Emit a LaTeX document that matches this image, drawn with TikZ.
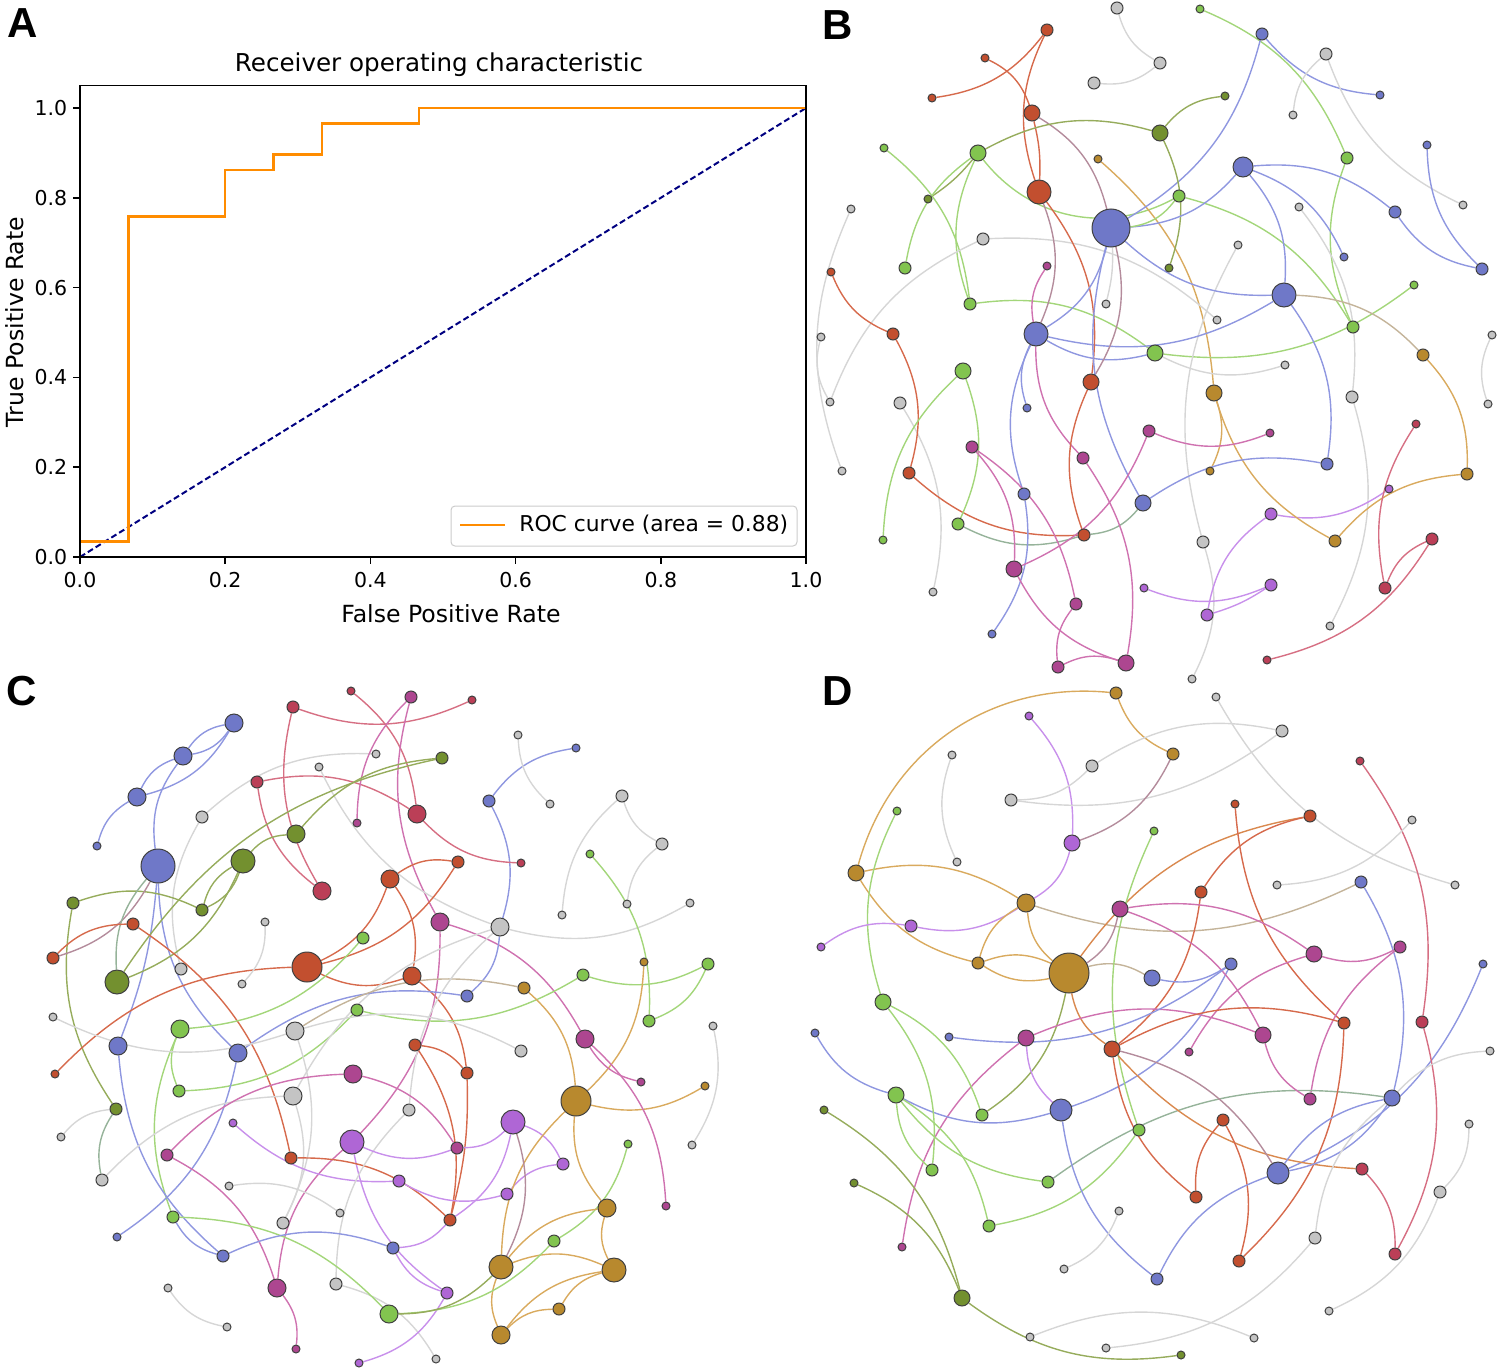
\documentclass[tikz,border=0pt]{standalone}
\usepackage{fontspec}
\setmainfont{DejaVu Sans}
\newfontfamily\lettfont{Liberation Sans}
\pgfdeclarelayer{edgelayer}
\pgfsetlayers{edgelayer,main}
\definecolor{nblu}{HTML}{6F78C8}
\definecolor{nred}{HTML}{C24F2F}
\definecolor{ngrn}{HTML}{82C44F}
\definecolor{nolv}{HTML}{73902F}
\definecolor{nmag}{HTML}{AD4690}
\definecolor{npur}{HTML}{AF66D5}
\definecolor{ngld}{HTML}{B8892E}
\definecolor{ngry}{HTML}{C4C4C4}
\definecolor{ncrm}{HTML}{BB3F57}
\definecolor{eblu}{HTML}{8F97E0}
\definecolor{ered}{HTML}{D66A4C}
\definecolor{egrn}{HTML}{A3D67A}
\definecolor{eolv}{HTML}{96AC5C}
\definecolor{emag}{HTML}{CF72B0}
\definecolor{epur}{HTML}{C890EB}
\definecolor{egld}{HTML}{D9AA5E}
\definecolor{egry}{HTML}{D6D6D6}
\definecolor{ecrm}{HTML}{D66F83}
\definecolor{emauve}{HTML}{B48C9C}
\definecolor{etan}{HTML}{C4B49A}
\definecolor{esage}{HTML}{96B39A}
\definecolor{eorg}{HTML}{D9894F}
\definecolor{rocorange}{HTML}{FF8C00}
\definecolor{rocnavy}{HTML}{000080}
\tikzset{
  nb/.style={circle,draw=black!75,line width=0.5pt,inner sep=0pt},
  edg/.style={line width=0.7pt},
  bnl/.style={bend left=22},
  bnr/.style={bend right=22},
  bnl2/.style={bend left=40},
  bnr2/.style={bend right=40},
  bns/.style={bend left=8},
  letter/.style={font=\lettfont\bfseries\fontsize{21}{21}\selectfont,inner sep=0pt},
  ticklab/.style={font=\fontsize{10.25}{12}\selectfont,inner sep=1pt},
  axlab/.style={font=\fontsize{11.8}{14}\selectfont}
}
\newcommand\mkn[5]{\node[nb,fill=#5,minimum size=#4pt] (#1) at (#2,#3) {};}
\newcommand\mke[4]{\draw[edg,draw=#3,#4] (#1) to (#2);}
\begin{document}
\begin{tikzpicture}[x=0.5pt,y=-0.5pt]
\useasboundingbox (0,0) rectangle (1499,1370);
% ===================== Panel A =====================
\node[letter] (LA) at (23,23) {A};
\node[letter] (LB) at (838,25) {B};
\node[letter] (LC) at (22,691) {C};
\node[letter] (LD) at (838,691) {D};
\node[font=\fontsize{12.3}{14}\selectfont] (title) at (439,65) {Receiver operating characteristic};
\node[axlab] (xlab) at (451,614) {False Positive Rate};
\node[axlab,rotate=90] (ylab) at (15,322) {True Positive Rate};
\begin{scope}[shift={(80,557)},x=363pt,y=224.5pt]
  \draw[rocnavy,line width=1pt,dash pattern=on 3pt off 1.6pt] (0,0) -- (1,1);
  \draw[rocorange,line width=1.15pt] (0,0.0345) -- (0.0667,0.0345) -- (0.0667,0.7586) -- (0.2,0.7586) -- (0.2,0.8621) -- (0.2667,0.8621) -- (0.2667,0.8966) -- (0.3333,0.8966) -- (0.3333,0.9655) -- (0.4667,0.9655) -- (0.4667,1) -- (1,1);
  \draw[line width=0.8pt] (0,0) rectangle (1,1.05);
  \foreach \v/\t in {0/0.0,0.2/0.2,0.4/0.4,0.6/0.6,0.8/0.8,1/1.0} {
    \draw[line width=0.8pt] (\v,0) -- ++(0,-3.5pt) node[below,ticklab,yshift=-2.5pt] {\t};
    \draw[line width=0.8pt] (0,\v) -- ++(-3.5pt,0) node[left,ticklab,xshift=-1.5pt] {\t};
  }
\end{scope}
\draw[rounded corners=2pt,draw=black!20,line width=0.5pt,fill=white] (451,506) rectangle (797,546);
\coordinate (lg1) at (460,525);
\coordinate (lg2) at (505,525);
\draw[rocorange,line width=1.15pt] (lg1) -- (lg2);
\node[anchor=west,font=\fontsize{10.9}{12}\selectfont,inner sep=0pt] (lgt) at (519,525) {ROC curve (area = 0.88)};
% ===================== Panel B nodes =====================
\mkn{b1}{1117}{8}{6}{ngry}
\mkn{b2}{1047}{30}{6}{nred}
\mkn{b3}{985}{58}{4}{nred}
\mkn{b4}{1160}{63}{6}{ngry}
\mkn{b5}{1094}{83}{6}{ngry}
\mkn{b6}{932}{98}{4}{nred}
\mkn{b7}{1032}{113}{8}{nred}
\mkn{b8}{1160}{133}{8}{nolv}
\mkn{b9}{884}{148}{4}{ngrn}
\mkn{b10}{978}{153}{8}{ngrn}
\mkn{b11}{1098}{159}{4}{ngld}
\mkn{b12}{1039}{192}{12}{nred}
\mkn{b13}{928}{199}{4}{nolv}
\mkn{b14}{851}{209}{4}{ngry}
\mkn{b15}{1111}{228}{19}{nblu}
\mkn{b16}{983}{239}{6}{ngry}
\mkn{b17}{1047}{266}{4}{nmag}
\mkn{b18}{831}{272}{4}{nred}
\mkn{b19}{905}{268}{6}{ngrn}
\mkn{b20}{970}{304}{6}{ngrn}
\mkn{b21}{1106}{304}{4}{ngry}
\mkn{b22}{893}{334}{6}{nred}
\mkn{b23}{1036}{334}{12}{nblu}
\mkn{b24}{821}{337}{4}{ngry}
\mkn{b25}{1200}{9}{4}{ngrn}
\mkn{b26}{1262}{34}{6}{nblu}
\mkn{b27}{1326}{54}{6}{ngry}
\mkn{b28}{1225}{96}{4}{nolv}
\mkn{b29}{1380}{95}{4}{nblu}
\mkn{b30}{1293}{115}{4}{ngry}
\mkn{b31}{1427}{145}{4}{nblu}
\mkn{b32}{1347}{158}{6}{ngrn}
\mkn{b33}{1243}{167}{10}{nblu}
\mkn{b34}{1179}{196}{6}{ngrn}
\mkn{b35}{1299}{207}{4}{ngry}
\mkn{b36}{1395}{212}{6}{nblu}
\mkn{b37}{1463}{205}{4}{ngry}
\mkn{b38}{1238}{245}{4}{ngry}
\mkn{b39}{1344}{257}{4}{nblu}
\mkn{b40}{1169}{268}{4}{nolv}
\mkn{b41}{1482}{269}{6}{nblu}
\mkn{b42}{1414}{285}{4}{ngrn}
\mkn{b43}{1217}{320}{4}{ngry}
\mkn{b44}{1284}{295}{12}{nblu}
\mkn{b45}{1353}{327}{6}{ngrn}
\mkn{b46}{1492}{335}{4}{ngry}
\mkn{b47}{963}{371}{8}{ngrn}
\mkn{b48}{1091}{382}{8}{nred}
\mkn{b49}{830}{402}{4}{ngry}
\mkn{b50}{900}{403}{6}{ngry}
\mkn{b51}{1027}{408}{4}{nblu}
\mkn{b52}{1149}{431}{6}{nmag}
\mkn{b53}{972}{447}{6}{nmag}
\mkn{b54}{1083}{458}{6}{nmag}
\mkn{b55}{842}{471}{4}{ngry}
\mkn{b56}{909}{473}{6}{nred}
\mkn{b57}{1024}{494}{6}{nblu}
\mkn{b58}{1143}{503}{8}{nblu}
\mkn{b59}{958}{524}{6}{ngrn}
\mkn{b60}{1084}{535}{6}{nred}
\mkn{b61}{1014}{569}{8}{nmag}
\mkn{b62}{933}{592}{4}{ngry}
\mkn{b63}{1144}{588}{4}{npur}
\mkn{b64}{1076}{604}{6}{nmag}
\mkn{b65}{992}{634}{4}{nblu}
\mkn{b66}{1058}{667}{6}{nmag}
\mkn{b67}{1126}{663}{8}{nmag}
\mkn{b68}{1155}{353}{8}{ngrn}
\mkn{b69}{1423}{355}{6}{ngld}
\mkn{b70}{1285}{365}{4}{ngry}
\mkn{b71}{1214}{393}{8}{ngld}
\mkn{b72}{1352}{397}{6}{ngry}
\mkn{b73}{1488}{404}{4}{ngry}
\mkn{b74}{1416}{424}{4}{ncrm}
\mkn{b75}{1270}{433}{4}{nmag}
\mkn{b76}{1327}{464}{6}{nblu}
\mkn{b77}{1210}{471}{4}{ngld}
\mkn{b78}{1467}{474}{6}{ngld}
\mkn{b79}{1389}{489}{4}{npur}
\mkn{b80}{1271}{514}{6}{npur}
\mkn{b81}{1335}{541}{6}{ngld}
\mkn{b82}{1203}{542}{6}{ngry}
\mkn{b83}{1432}{539}{6}{ncrm}
\mkn{b84}{1385}{588}{6}{ncrm}
\mkn{b85}{1271}{585}{6}{npur}
\mkn{b86}{1207}{615}{6}{npur}
\mkn{b87}{1330}{626}{4}{ngry}
\mkn{b88}{1267}{660}{4}{ncrm}
\mkn{b89}{1192}{679}{4}{ngry}
\mkn{b90}{883}{540}{4}{ngrn}
% ===================== Panel C nodes =====================
\mkn{c1}{351}{691}{4}{ncrm}
\mkn{c2}{293}{707}{6}{ncrm}
\mkn{c3}{234}{723}{9}{nblu}
\mkn{c4}{376}{754}{4}{ngry}
\mkn{c5}{183}{756}{9}{nblu}
\mkn{c6}{319}{767}{4}{ngry}
\mkn{c7}{257}{782}{6}{ncrm}
\mkn{c8}{137}{797}{9}{nblu}
\mkn{c9}{202}{817}{6}{ngry}
\mkn{c10}{357}{823}{4}{nmag}
\mkn{c11}{296}{834}{9}{nolv}
\mkn{c12}{97}{846}{4}{nblu}
\mkn{c13}{243}{861}{12}{nolv}
\mkn{c14}{158}{866}{17}{nblu}
\mkn{c15}{322}{891}{9}{ncrm}
\mkn{c16}{73}{903}{6}{nolv}
\mkn{c17}{202}{910}{6}{nolv}
\mkn{c18}{265}{922}{4}{ngry}
\mkn{c19}{133}{924}{6}{nred}
\mkn{c20}{53}{958}{6}{nred}
\mkn{c21}{363}{938}{6}{ngrn}
\mkn{c22}{307}{967}{15}{nred}
\mkn{c23}{181}{969}{6}{ngry}
\mkn{c24}{117}{982}{12}{nolv}
\mkn{c25}{242}{984}{4}{ngry}
\mkn{c26}{53}{1017}{4}{ngry}
\mkn{c27}{357}{1010}{6}{ngrn}
\mkn{c28}{411}{697}{6}{nmag}
\mkn{c29}{472}{700}{4}{ncrm}
\mkn{c30}{518}{735}{4}{ngry}
\mkn{c31}{576}{748}{4}{nblu}
\mkn{c32}{442}{758}{6}{nolv}
\mkn{c33}{489}{801}{6}{nblu}
\mkn{c34}{550}{804}{4}{ngry}
\mkn{c35}{622}{796}{6}{ngry}
\mkn{c36}{417}{814}{9}{ncrm}
\mkn{c37}{662}{844}{6}{ngry}
\mkn{c38}{590}{854}{4}{ngrn}
\mkn{c39}{521}{863}{4}{ncrm}
\mkn{c40}{458}{862}{6}{nred}
\mkn{c41}{390}{879}{9}{nred}
\mkn{c42}{562}{915}{4}{ngry}
\mkn{c43}{627}{904}{4}{ngry}
\mkn{c44}{690}{903}{4}{ngry}
\mkn{c45}{440}{922}{9}{nmag}
\mkn{c46}{500}{927}{9}{ngry}
\mkn{c47}{644}{962}{4}{ngld}
\mkn{c48}{708}{964}{6}{ngrn}
\mkn{c49}{583}{975}{6}{ngrn}
\mkn{c50}{412}{976}{9}{nred}
\mkn{c51}{524}{988}{6}{ngld}
\mkn{c52}{467}{996}{6}{nblu}
\mkn{c53}{649}{1021}{6}{ngrn}
\mkn{c54}{713}{1026}{4}{ngry}
\mkn{c55}{180}{1029}{9}{ngrn}
\mkn{c56}{295}{1031}{9}{ngry}
\mkn{c57}{118}{1046}{9}{nblu}
\mkn{c58}{238}{1053}{9}{nblu}
\mkn{c59}{55}{1074}{4}{nred}
\mkn{c60}{353}{1074}{9}{nmag}
\mkn{c61}{179}{1091}{6}{ngrn}
\mkn{c62}{293}{1096}{9}{ngry}
\mkn{c63}{116}{1109}{6}{nolv}
\mkn{c64}{233}{1123}{4}{npur}
\mkn{c65}{61}{1137}{4}{ngry}
\mkn{c66}{352}{1142}{12}{npur}
\mkn{c67}{167}{1155}{6}{nmag}
\mkn{c68}{291}{1158}{6}{nred}
\mkn{c69}{102}{1180}{6}{ngry}
\mkn{c70}{229}{1186}{4}{ngry}
\mkn{c71}{340}{1213}{4}{ngry}
\mkn{c72}{173}{1217}{6}{ngrn}
\mkn{c73}{283}{1223}{6}{ngry}
\mkn{c74}{117}{1237}{4}{nblu}
\mkn{c75}{223}{1256}{6}{nblu}
\mkn{c76}{336}{1284}{6}{ngry}
\mkn{c77}{277}{1288}{9}{nmag}
\mkn{c78}{168}{1288}{4}{ngry}
\mkn{c79}{227}{1327}{4}{ngry}
\mkn{c80}{296}{1349}{4}{nmag}
\mkn{c81}{359}{1363}{4}{npur}
\mkn{c82}{389}{1314}{9}{ngrn}
\mkn{c83}{585}{1039}{9}{nmag}
\mkn{c84}{415}{1045}{6}{nred}
\mkn{c85}{521}{1051}{6}{ngry}
\mkn{c86}{467}{1073}{6}{nred}
\mkn{c87}{641}{1082}{4}{nmag}
\mkn{c88}{705}{1086}{4}{ngld}
\mkn{c89}{576}{1101}{15}{ngld}
\mkn{c90}{409}{1110}{6}{ngry}
\mkn{c91}{513}{1122}{12}{npur}
\mkn{c92}{692}{1145}{4}{ngry}
\mkn{c93}{628}{1144}{4}{ngrn}
\mkn{c94}{457}{1148}{6}{nmag}
\mkn{c95}{563}{1164}{6}{npur}
\mkn{c96}{399}{1181}{6}{npur}
\mkn{c97}{507}{1194}{6}{npur}
\mkn{c98}{666}{1206}{4}{nmag}
\mkn{c99}{450}{1220}{6}{nred}
\mkn{c100}{607}{1208}{9}{ngld}
\mkn{c101}{554}{1241}{6}{ngrn}
\mkn{c102}{393}{1248}{6}{nblu}
\mkn{c103}{501}{1267}{12}{ngld}
\mkn{c104}{614}{1270}{12}{ngld}
\mkn{c105}{447}{1293}{6}{npur}
\mkn{c106}{559}{1309}{6}{ngld}
\mkn{c107}{501}{1335}{9}{ngld}
\mkn{c108}{436}{1359}{4}{ngry}
% ===================== Panel D nodes =====================
\mkn{d1}{1116}{693}{6}{ngld}
\mkn{d2}{1029}{716}{4}{npur}
\mkn{d3}{952}{755}{4}{ngry}
\mkn{d4}{1092}{766}{6}{ngry}
\mkn{d5}{897}{811}{4}{ngrn}
\mkn{d6}{1011}{800}{6}{ngry}
\mkn{d7}{1072}{843}{8}{npur}
\mkn{d8}{957}{862}{4}{ngry}
\mkn{d9}{856}{873}{8}{ngld}
\mkn{d10}{1026}{903}{9}{ngld}
\mkn{d11}{1120}{909}{8}{nmag}
\mkn{d12}{911}{926}{6}{npur}
\mkn{d13}{821}{947}{4}{npur}
\mkn{d14}{978}{963}{6}{ngld}
\mkn{d15}{1069}{973}{20}{ngld}
\mkn{d16}{883}{1002}{8}{ngrn}
\mkn{d18}{1216}{697}{4}{ngry}
\mkn{d19}{1282}{731}{6}{ngry}
\mkn{d20}{1173}{754}{6}{ngld}
\mkn{d21}{1360}{761}{4}{ncrm}
\mkn{d22}{1235}{804}{4}{nred}
\mkn{d23}{1310}{816}{6}{nred}
\mkn{d24}{1412}{820}{4}{ngry}
\mkn{d25}{1154}{831}{4}{ngrn}
\mkn{d26}{1277}{885}{4}{ngry}
\mkn{d27}{1361}{882}{6}{nblu}
\mkn{d28}{1455}{885}{4}{ngry}
\mkn{d29}{1201}{892}{6}{nred}
\mkn{d30}{1314}{954}{8}{nmag}
\mkn{d31}{1400}{947}{6}{nmag}
\mkn{d32}{1231}{964}{6}{nblu}
\mkn{d33}{1152}{978}{8}{nblu}
\mkn{d34}{1483}{964}{4}{nblu}
\mkn{d35}{1344}{1023}{6}{nred}
\mkn{d36}{1422}{1022}{6}{ncrm}
\mkn{d37}{815}{1033}{4}{nblu}
\mkn{d38}{949}{1037}{4}{nblu}
\mkn{d39}{1026}{1038}{8}{nmag}
\mkn{d40}{1112}{1049}{8}{nred}
\mkn{d41}{896}{1095}{8}{ngrn}
\mkn{d42}{824}{1110}{4}{nolv}
\mkn{d43}{982}{1115}{6}{ngrn}
\mkn{d44}{1061}{1110}{11}{nblu}
\mkn{d45}{1139}{1130}{6}{ngrn}
\mkn{d46}{932}{1170}{6}{ngrn}
\mkn{d47}{1048}{1182}{6}{ngrn}
\mkn{d48}{854}{1183}{4}{nolv}
\mkn{d49}{989}{1226}{6}{ngrn}
\mkn{d50}{1119}{1211}{4}{ngry}
\mkn{d51}{902}{1247}{4}{nmag}
\mkn{d52}{1064}{1269}{4}{ngry}
\mkn{d53}{962}{1298}{8}{nolv}
\mkn{d54}{1030}{1337}{4}{ngry}
\mkn{d55}{1106}{1348}{4}{ngry}
\mkn{d56}{1263}{1035}{8}{nmag}
\mkn{d57}{1189}{1052}{4}{nmag}
\mkn{d58}{1490}{1051}{4}{ngry}
\mkn{d59}{1310}{1099}{6}{nmag}
\mkn{d60}{1392}{1098}{8}{nblu}
\mkn{d61}{1223}{1120}{6}{nred}
\mkn{d62}{1469}{1124}{4}{ngry}
\mkn{d63}{1278}{1173}{11}{nblu}
\mkn{d64}{1362}{1169}{6}{ncrm}
\mkn{d65}{1196}{1197}{6}{nred}
\mkn{d66}{1440}{1192}{6}{ngry}
\mkn{d67}{1315}{1238}{6}{ngry}
\mkn{d68}{1239}{1261}{6}{nred}
\mkn{d69}{1395}{1254}{6}{ncrm}
\mkn{d70}{1157}{1279}{6}{nblu}
\mkn{d71}{1329}{1311}{4}{ngry}
\mkn{d72}{1254}{1338}{4}{ngry}
\mkn{d73}{1181}{1355}{4}{nolv}
% ===================== Edges =====================
\begin{pgfonlayer}{edgelayer}
% ---- B ----
\mke{b6}{b2}{ered}{bnr}
\mke{b2}{b12}{ered}{bnr}
\mke{b3}{b7}{ered}{bnl}
\mke{b7}{b12}{ered}{bns}
\mke{b1}{b4}{egry}{bnr}
\mke{b5}{b4}{egry}{bnr}
\mke{b7}{b15}{emauve}{bnl}
\mke{b10}{b8}{eolv}{bnl}
\mke{b9}{b20}{egrn}{bnl}
\mke{b10}{b13}{eolv}{bns}
\mke{b10}{b19}{egrn}{bnr}
\mke{b10}{b20}{egrn}{bnr}
\mke{b10}{b34}{egrn}{bnr2}
\mke{b11}{b71}{egld}{bnl}
\mke{b14}{b55}{egry}{bnr}
\mke{b24}{b49}{egry}{bnr}
\mke{b16}{b49}{egry}{bnr}
\mke{b16}{b43}{egry}{bnl}
\mke{b50}{b62}{egry}{bnl}
\mke{b18}{b22}{ered}{bnr}
\mke{b22}{b56}{ered}{bnl}
\mke{b56}{b60}{ered}{bnr}
\mke{b59}{b60}{esage}{bnr}
\mke{b60}{b58}{esage}{bnr}
\mke{b47}{b59}{egrn}{bnl}
\mke{b47}{b90}{egrn}{bnr}
\mke{b20}{b68}{egrn}{bnl}
\mke{b42}{b68}{egrn}{bnl}
\mke{b34}{b45}{egrn}{bnl}
\mke{b45}{b32}{egrn}{bnl}
\mke{b25}{b32}{egrn}{bnl}
\mke{b26}{b29}{eblu}{bnr}
\mke{b26}{b15}{eblu}{bnl}
\mke{b27}{b30}{egry}{bnr}
\mke{b27}{b37}{egry}{bnr}
\mke{b8}{b28}{eolv}{bnl}
\mke{b8}{b40}{eolv}{bnl}
\mke{b33}{b36}{eblu}{bnl}
\mke{b33}{b39}{eblu}{bnl}
\mke{b33}{b15}{eblu}{bnl}
\mke{b33}{b44}{eblu}{bnl}
\mke{b36}{b41}{eblu}{bnr}
\mke{b31}{b41}{eblu}{bnr}
\mke{b35}{b72}{egry}{bnl}
\mke{b72}{b87}{egry}{bnl}
\mke{b38}{b82}{egry}{bnr}
\mke{b82}{b89}{egry}{bnl}
\mke{b15}{b34}{egrn}{bnr}
\mke{b15}{b44}{eblu}{bnr}
\mke{b23}{b44}{eblu}{bnr}
\mke{b68}{b23}{eblu}{bnl}
\mke{b44}{b76}{eblu}{bnl}
\mke{b44}{b69}{etan}{bnl}
\mke{b69}{b78}{egld}{bnl}
\mke{b46}{b73}{egry}{bnr}
\mke{b78}{b81}{egld}{bnr}
\mke{b79}{b80}{epur}{bnl}
\mke{b71}{b81}{egld}{bnr}
\mke{b71}{b77}{egld}{bnl}
\mke{b75}{b52}{emag}{bnl}
\mke{b76}{b58}{eblu}{bnr}
\mke{b80}{b86}{epur}{bnr}
\mke{b85}{b86}{epur}{bns}
\mke{b85}{b63}{epur}{bnl}
\mke{b74}{b84}{ecrm}{bnr}
\mke{b83}{b84}{ecrm}{bnr}
\mke{b83}{b88}{ecrm}{bnl}
\mke{b68}{b70}{egry}{bnr}
\mke{b17}{b23}{emag}{bnr}
\mke{b23}{b51}{eblu}{bnr}
\mke{b23}{b57}{eblu}{bnr}
\mke{b57}{b65}{eblu}{bnl}
\mke{b23}{b54}{emag}{bnr}
\mke{b54}{b67}{emag}{bnl}
\mke{b48}{b60}{ered}{bnr}
\mke{b12}{b48}{ered}{bnl}
\mke{b12}{b23}{emauve}{bnl}
\mke{b15}{b48}{emauve}{bnl}
\mke{b15}{b23}{eblu}{bnl}
\mke{b15}{b58}{eblu}{bnr}
\mke{b53}{b61}{emag}{bnl}
\mke{b53}{b64}{emag}{bnl}
\mke{b61}{b52}{emag}{bnr}
\mke{b61}{b67}{emag}{bnr}
\mke{b64}{b66}{emag}{bnr}
\mke{b66}{b67}{emag}{bnl}
\mke{b15}{b21}{egry}{bns}
% ---- C ----
\mke{c3}{c5}{eblu}{bnl}
\mke{c3}{c5}{eblu}{bnr}
\mke{c3}{c8}{eblu}{bnl}
\mke{c5}{c8}{eblu}{bnr}
\mke{c8}{c12}{eblu}{bnr}
\mke{c5}{c14}{eblu}{bnr}
\mke{c14}{c57}{eblu}{bns}
\mke{c14}{c58}{eblu}{bnr}
\mke{c9}{c4}{egry}{bnl}
\mke{c9}{c23}{egry}{bnr}
\mke{c2}{c15}{ecrm}{bnr}
\mke{c2}{c29}{ecrm}{bnr}
\mke{c1}{c36}{ecrm}{bnl}
\mke{c7}{c15}{ecrm}{bnr}
\mke{c7}{c36}{ecrm}{bnl}
\mke{c10}{c28}{emag}{bnl}
\mke{c28}{c45}{emag}{bnr}
\mke{c6}{c46}{egry}{bnr}
\mke{c11}{c32}{eolv}{bnl}
\mke{c24}{c32}{eolv}{bnl}
\mke{c13}{c17}{eolv}{bnl}
\mke{c13}{c17}{eolv}{bnr}
\mke{c13}{c11}{eolv}{bnl}
\mke{c16}{c17}{eolv}{bnl}
\mke{c16}{c63}{eolv}{bnr}
\mke{c13}{c24}{eolv}{bnl}
\mke{c14}{c20}{emauve}{bnl}
\mke{c14}{c24}{esage}{bnr}
\mke{c19}{c20}{ered}{bnr}
\mke{c19}{c68}{ered}{bnl}
\mke{c59}{c22}{ered}{bnl}
\mke{c22}{c41}{ered}{bnr}
\mke{c22}{c40}{ered}{bnr}
\mke{c22}{c50}{ered}{bnr}
\mke{c41}{c40}{ered}{bnl}
\mke{c41}{c50}{ered}{bnl}
\mke{c50}{c86}{ered}{bnl}
\mke{c18}{c25}{egry}{bnl}
\mke{c21}{c55}{egrn}{bnl}
\mke{c61}{c27}{egrn}{bnr}
\mke{c55}{c61}{egrn}{bnr}
\mke{c55}{c72}{egrn}{bnr}
\mke{c45}{c66}{emag}{bnl}
\mke{c45}{c83}{emag}{bnl}
\mke{c46}{c33}{eblu}{bnr}
\mke{c46}{c44}{egry}{bnr}
\mke{c46}{c62}{egry}{bnr}
\mke{c46}{c52}{eblu}{bnl}
\mke{c33}{c31}{eblu}{bnl}
\mke{c30}{c34}{egry}{bnr}
\mke{c35}{c37}{egry}{bnr}
\mke{c35}{c42}{egry}{bnr}
\mke{c37}{c43}{egry}{bnr}
\mke{c36}{c39}{ecrm}{bnr}
\mke{c38}{c53}{egrn}{bnl}
\mke{c49}{c48}{egrn}{bnr}
\mke{c48}{c53}{egrn}{bnl}
\mke{c49}{c27}{egrn}{bnl}
\mke{c47}{c89}{egld}{bnl}
\mke{c51}{c89}{egld}{bnl}
\mke{c52}{c58}{eblu}{bnr}
\mke{c56}{c51}{etan}{bnl}
\mke{c57}{c75}{eblu}{bnr}
\mke{c26}{c56}{egry}{bnr}
\mke{c58}{c74}{eblu}{bnl}
\mke{c63}{c69}{esage}{bnr}
\mke{c63}{c65}{egry}{bnr}
\mke{c69}{c62}{egry}{bnl}
\mke{c56}{c73}{egry}{bnl}
\mke{c62}{c73}{egry}{bnl}
\mke{c67}{c60}{emag}{bnl}
\mke{c67}{c77}{emag}{bnl}
\mke{c77}{c80}{emag}{bnl}
\mke{c77}{c66}{emag}{bnl}
\mke{c64}{c96}{epur}{bnr}
\mke{c66}{c105}{epur}{bnr}
\mke{c68}{c99}{ered}{bnl}
\mke{c70}{c71}{egry}{bnl}
\mke{c76}{c90}{egry}{bnl}
\mke{c76}{c108}{egry}{bnl}
\mke{c72}{c75}{eblu}{bnr}
\mke{c72}{c82}{egrn}{bnl}
\mke{c75}{c102}{eblu}{bnl}
\mke{c78}{c79}{egry}{bnr}
\mke{c81}{c105}{epur}{bnr}
\mke{c84}{c86}{ered}{bnl}
\mke{c84}{c99}{ered}{bnl}
\mke{c86}{c99}{ered}{bns}
\mke{c85}{c56}{egry}{bnr}
\mke{c90}{c46}{egry}{bnl}
\mke{c94}{c91}{epur}{bnr}
\mke{c60}{c94}{emag}{bnl}
\mke{c66}{c94}{epur}{bnr}
\mke{c91}{c95}{epur}{bnl}
\mke{c91}{c99}{epur}{bnl}
\mke{c99}{c102}{epur}{bnl}
\mke{c96}{c97}{epur}{bnr}
\mke{c97}{c95}{epur}{bnl}
\mke{c89}{c103}{egld}{bnr}
\mke{c91}{c103}{emauve}{bnl}
\mke{c89}{c100}{egld}{bnr}
\mke{c89}{c88}{egld}{bnr}
\mke{c83}{c87}{emag}{bnr}
\mke{c83}{c98}{emag}{bnl}
\mke{c54}{c92}{egry}{bnl}
\mke{c93}{c101}{egrn}{bnl}
\mke{c100}{c104}{egld}{bnr}
\mke{c100}{c103}{egld}{bnr}
\mke{c103}{c104}{egld}{bnl}
\mke{c103}{c107}{egld}{bnr}
\mke{c104}{c106}{egld}{bnr}
\mke{c104}{c107}{egld}{bnr}
\mke{c106}{c107}{egld}{bnr}
\mke{c101}{c82}{egrn}{bnl}
\mke{c103}{c82}{eolv}{bnl}
\mke{c102}{c105}{epur}{bnr}
% ---- D ----
\mke{d1}{d9}{egld}{bnr2}
\mke{d1}{d20}{egld}{bnr}
\mke{d2}{d7}{epur}{bnl}
\mke{d3}{d8}{egry}{bnr}
\mke{d4}{d6}{egry}{bnl}
\mke{d4}{d19}{egry}{bnl}
\mke{d6}{d19}{egry}{bnr}
\mke{d7}{d20}{emauve}{bnr}
\mke{d7}{d10}{epur}{bnl}
\mke{d9}{d10}{egld}{bnl}
\mke{d9}{d14}{egld}{bnr}
\mke{d5}{d16}{egrn}{bnr}
\mke{d12}{d13}{epur}{bnr}
\mke{d12}{d10}{epur}{bnr}
\mke{d10}{d14}{egld}{bnr}
\mke{d10}{d15}{egld}{bnr}
\mke{d14}{d15}{egld}{bnl}
\mke{d14}{d15}{egld}{bnr}
\mke{d10}{d27}{etan}{bnr}
\mke{d11}{d15}{emauve}{bnl}
\mke{d15}{d23}{eorg}{bnl}
\mke{d15}{d33}{etan}{bnl}
\mke{d15}{d40}{eorg}{bnr}
\mke{d15}{d43}{eolv}{bnl}
\mke{d18}{d28}{egry}{bnr}
\mke{d21}{d36}{ecrm}{bnl}
\mke{d22}{d35}{ered}{bnr}
\mke{d23}{d29}{ered}{bnr}
\mke{d29}{d40}{ered}{bnl}
\mke{d24}{d26}{egry}{bnl}
\mke{d27}{d60}{eblu}{bnl}
\mke{d30}{d31}{emag}{bnr}
\mke{d30}{d11}{emag}{bnr}
\mke{d30}{d57}{emag}{bnr}
\mke{d31}{d59}{emag}{bnr}
\mke{d32}{d33}{eblu}{bnl}
\mke{d32}{d44}{eblu}{bnl}
\mke{d11}{d56}{emag}{bnl}
\mke{d51}{d39}{emag}{bnl}
\mke{d39}{d56}{emag}{bnl}
\mke{d34}{d63}{eblu}{bnl}
\mke{d36}{d69}{ecrm}{bnl}
\mke{d37}{d41}{eblu}{bnr}
\mke{d41}{d44}{eblu}{bnr}
\mke{d38}{d32}{eblu}{bnr}
\mke{d39}{d44}{epur}{bnr}
\mke{d16}{d43}{egrn}{bnl}
\mke{d41}{d46}{egrn}{bnr}
\mke{d41}{d47}{egrn}{bnr}
\mke{d41}{d49}{egrn}{bnl}
\mke{d46}{d16}{egrn}{bnr}
\mke{d47}{d60}{esage}{bnl}
\mke{d49}{d45}{egrn}{bnr}
\mke{d25}{d45}{egrn}{bnr}
\mke{d40}{d64}{eorg}{bnr}
\mke{d40}{d65}{ered}{bnr}
\mke{d40}{d35}{ered}{bnl}
\mke{d40}{d63}{emauve}{bnl}
\mke{d44}{d70}{eblu}{bnr}
\mke{d42}{d53}{eolv}{bnl}
\mke{d48}{d53}{eolv}{bnl}
\mke{d53}{d73}{eolv}{bnr}
\mke{d50}{d52}{egry}{bnl}
\mke{d54}{d72}{egry}{bnl}
\mke{d55}{d67}{egry}{bnr}
\mke{d56}{d59}{emag}{bnr}
\mke{d35}{d68}{ered}{bnl}
\mke{d61}{d65}{ered}{bnr}
\mke{d61}{d68}{ered}{bnl}
\mke{d60}{d63}{eblu}{bnl}
\mke{d60}{d63}{eblu}{bnr}
\mke{d60}{d58}{egry}{bnl}
\mke{d60}{d67}{egry}{bnr}
\mke{d64}{d69}{ecrm}{bnl}
\mke{d62}{d66}{egry}{bnl}
\mke{d66}{d71}{egry}{bnl}
\mke{d63}{d70}{eblu}{bnr}
\end{pgfonlayer}
\end{tikzpicture}
\end{document}
